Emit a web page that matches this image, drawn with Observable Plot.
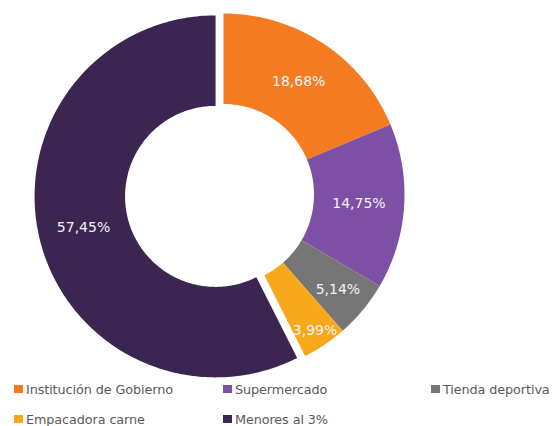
<!DOCTYPE html>
<html><head><meta charset="utf-8">
<script src="https://cdn.jsdelivr.net/npm/d3@7"></script>
<script src="https://cdn.jsdelivr.net/npm/@observablehq/plot@0.6"></script>
<style>
body{margin:0;background:#fff;width:554px;height:426px;overflow:hidden;position:relative;font-family:"DejaVu Sans",sans-serif}
#legend{position:absolute;left:14px;top:374px;display:grid;grid-template-columns:209px 208px 123px;grid-auto-rows:30px;font-size:12.8px;color:#595959;letter-spacing:-0.1px}
.item{display:flex;align-items:center;white-space:nowrap}
.sw{width:9px;height:8px;margin-right:3px;flex:none}
</style></head><body>
<div id="chart"></div><div id="legend"></div>
<script>
const categories = ["Institución de Gobierno", "Supermercado", "Tienda deportiva", "Empacadora carne", "Menores al 3%"];
const values = [18.68, 14.75, 5.14, 3.99, 57.45];
const colors = ["#F47B20", "#7D4FA5", "#767676", "#F7A81B", "#3D2552"];
const exploded = "Menores al 3%";

const total = d3.sum(values);
const inner = 0.5, explode = 0.045;
const fmt = v => v.toFixed(2).replace(".", ",") + "%";

const points = [];
const labelsData = [];
let acc = 0;
categories.forEach((cat, i) => {
  const f0 = acc / total, f1 = (acc + values[i]) / total;
  acc += values[i];
  const a0 = f0 * 2 * Math.PI, a1 = f1 * 2 * Math.PI, am = (a0 + a1) / 2;
  const off = cat === exploded ? explode : 0;
  const ox = off * Math.sin(am), oy = off * Math.cos(am);
  const n = Math.max(6, Math.ceil((f1 - f0) * 360));
  for (let k = 0; k <= n; k++) {
    const a = a0 + (a1 - a0) * k / n;
    points.push({cat, x: ox + Math.sin(a), y: oy + Math.cos(a)});
  }
  for (let k = n; k >= 0; k--) {
    const a = a0 + (a1 - a0) * k / n;
    points.push({cat, x: ox + inner * Math.sin(a), y: oy + inner * Math.cos(a)});
  }
  const share = values[i] / total * 100;
  const lr = share >= 10 ? 0.75 : share >= 5 ? 0.82 : 0.905;
  labelsData.push({cat, text: fmt(values[i]), x: ox + lr * Math.sin(am), y: oy + lr * Math.cos(am)});
});

const chart = Plot.plot({
  width: 554, height: 378,
  marginLeft: 42, marginRight: 150, marginTop: 13, marginBottom: 3,
  x: {domain: [-1, 1], axis: null},
  y: {domain: [-1, 1], axis: null},
  color: {domain: categories, range: colors},
  marks: [
    Plot.line(points, {x: "x", y: "y", z: "cat", fill: "cat", stroke: "none", curve: "linear"}),
    Plot.text(labelsData, {x: "x", y: "y", text: "text", fill: "#f4f4f4", fontSize: 14, fontFamily: "DejaVu Sans"})
  ]
});
document.getElementById("chart").appendChild(chart);

const legend = document.getElementById("legend");
categories.forEach((cat, i) => {
  const it = document.createElement("div");
  it.className = "item";
  const sw = document.createElement("span");
  sw.className = "sw";
  sw.style.background = colors[i];
  it.appendChild(sw);
  it.appendChild(document.createTextNode(cat));
  legend.appendChild(it);
});
</script>
</body></html>
